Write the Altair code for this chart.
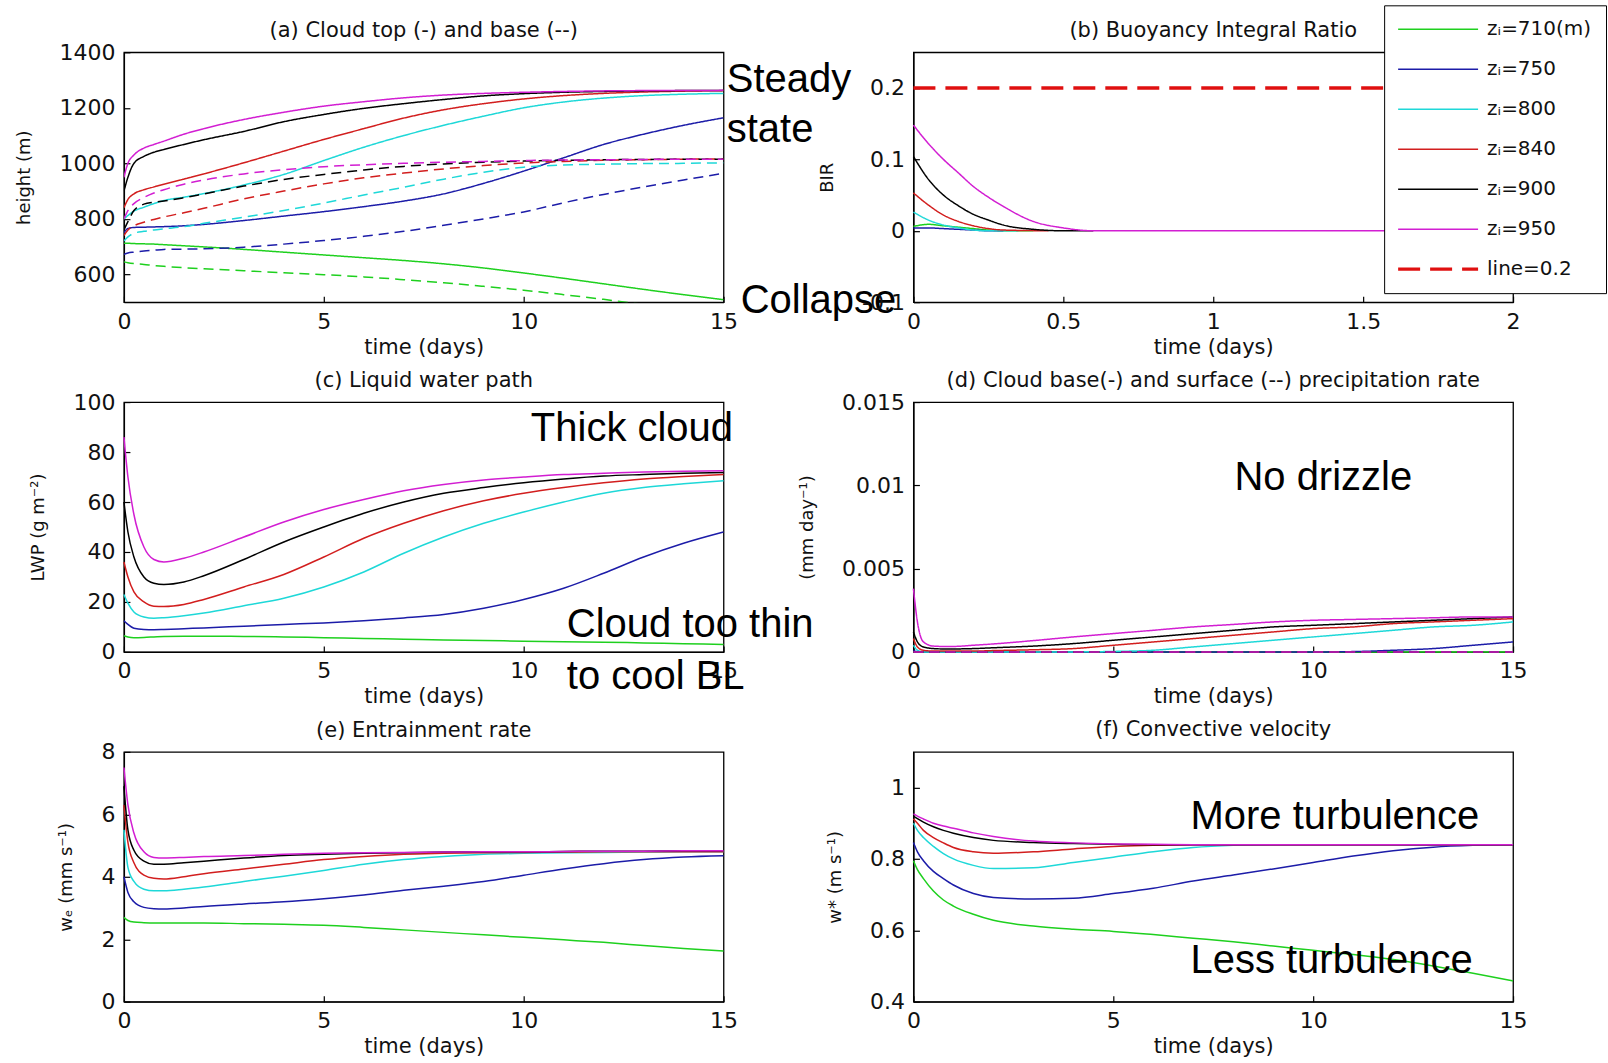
import altair as alt
import pandas as pd

# ---------------- data ----------------
SERIES_KEYS = ["710", "750", "800", "840", "900", "950"]
LABELS = ["z\u1d62=710(m)", "z\u1d62=750", "z\u1d62=800", "z\u1d62=840", "z\u1d62=900", "z\u1d62=950"]
LINE02_LABEL = "line=0.2"
COLORS = ["#1ed01e", "#1c1ca8", "#1ed8d8", "#d21e1e", "#000000", "#d21ed2"]
RED_DASH = "#e01010"

T = [0, 0.1, 0.25, 0.5, 0.75, 1, 1.5, 2, 3, 4, 5, 6, 7, 8, 9, 10, 11, 12, 13, 14, 15]

CLOUD_TOP = {
    "710": [712, 712, 711, 710, 709, 707, 703, 699, 690, 680, 670, 660, 650, 638, 623, 605, 586, 566, 546, 527, 509],
    "750": [750, 765, 769, 770, 771, 772, 775, 780, 794, 810, 826, 844, 864, 890, 928, 972, 1020, 1068, 1105, 1137, 1164],
    "800": [800, 812, 828, 842, 855, 866, 878, 891, 922, 960, 1010, 1058, 1100, 1137, 1170, 1200, 1221, 1235, 1244, 1249, 1252],
    "840": [840, 870, 890, 905, 915, 925, 943, 962, 1002, 1044, 1086, 1125, 1163, 1193, 1215, 1232, 1244, 1252, 1257, 1260, 1262],
    "900": [900, 950, 1000, 1025, 1040, 1050, 1068, 1085, 1115, 1150, 1176, 1198, 1215, 1230, 1243, 1251, 1256, 1259, 1261, 1262, 1262],
    "950": [950, 1000, 1030, 1055, 1068, 1080, 1105, 1125, 1158, 1184, 1206, 1222, 1236, 1246, 1252, 1256, 1259, 1261, 1262, 1262, 1263],
}
CLOUD_BASE = {
    "710": [645, 642, 639, 636, 632, 629, 624, 620, 613, 606, 599, 591, 581, 570, 557, 543, 527, 510, 492, 474, 455],
    "750": [672, 677, 680, 684, 687, 690, 691, 692, 698, 709, 722, 737, 755, 777, 800, 825, 858, 888, 915, 940, 964],
    "800": [720, 735, 748, 755, 760, 764, 772, 784, 806, 830, 857, 886, 914, 943, 968, 986, 994, 997, 999, 1000, 1002],
    "840": [740, 760, 775, 788, 798, 807, 822, 838, 872, 900, 926, 948, 965, 980, 992, 1001, 1007, 1011, 1013, 1015, 1016],
    "900": [760, 790, 830, 853, 860, 864, 876, 890, 918, 942, 960, 976, 989, 998, 1004, 1008, 1011, 1013, 1014, 1015, 1015],
    "950": [800, 830, 855, 877, 893, 905, 925, 940, 962, 977, 988, 995, 1000, 1004, 1007, 1010, 1012, 1013, 1014, 1015, 1015],
}

BIR_T = {
    "710": [0, 0.05, 0.1, 0.15, 0.2, 0.25, 0.3, 0.4],
    "750": [0, 0.05, 0.1, 0.15, 0.2, 0.25, 0.3],
    "800": [0, 0.05, 0.1, 0.15, 0.2, 0.25, 0.35],
    "840": [0, 0.05, 0.1, 0.15, 0.2, 0.25, 0.3, 0.45],
    "900": [0, 0.05, 0.1, 0.15, 0.2, 0.25, 0.3, 0.4, 0.5, 0.6],
    "950": [0, 0.05, 0.1, 0.15, 0.2, 0.25, 0.3, 0.4, 0.5, 0.6, 2.0],
}
BIR = {
    "710": [0.006, 0.009, 0.007, 0.005, 0.003, 0.001, 0.0, 0.0],
    "750": [0.004, 0.004, 0.003, 0.002, 0.001, 0.0, 0.0],
    "800": [0.026, 0.015, 0.008, 0.004, 0.001, 0.0, 0.0],
    "840": [0.053, 0.036, 0.022, 0.013, 0.007, 0.003, 0.001, 0.0],
    "900": [0.104, 0.072, 0.05, 0.035, 0.023, 0.015, 0.008, 0.002, 0.0, 0.0],
    "950": [0.148, 0.122, 0.1, 0.081, 0.062, 0.047, 0.034, 0.013, 0.004, 0.0, 0.0],
}
LINE02_T = [0, 2]
LINE02_V = [0.2, 0.2]

LWP = {
    "710": [6.5, 6.0, 5.7, 5.8, 6.0, 6.2, 6.3, 6.3, 6.2, 6.0, 5.7, 5.4, 5.1, 4.8, 4.6, 4.3, 4.1, 3.9, 3.6, 3.3, 3.0],
    "750": [12.5, 11.0, 9.5, 9.0, 8.9, 9.0, 9.3, 9.6, 10.3, 11.0, 11.6, 12.5, 13.6, 15.0, 17.5, 21.0, 25.5, 31.5, 38.0, 43.5, 48.0],
    "800": [23, 19.5, 16, 14, 13.5, 13.7, 14.5, 15.6, 18.5, 21.5, 26, 32, 39.5, 46, 51.5, 56, 60, 63.5, 65.8, 67.3, 68.5],
    "840": [36, 30, 24, 20, 18.3, 18.2, 19, 21, 26, 31, 38, 45.5, 51.5, 56.5, 60.5, 63.5, 65.8, 67.7, 69.2, 70.2, 71],
    "900": [60, 48, 38, 30, 27.5, 27, 28, 30.5, 37, 44, 50, 55.5, 60, 63.5, 65.8, 67.7, 69.2, 70.4, 71, 71.5, 71.8],
    "950": [86, 70, 55, 42, 37, 36, 37.5, 40, 46, 52, 57, 61, 64.5, 67, 68.8, 70, 71, 71.5, 72, 72.3, 72.5],
}

PRECIP_BASE = {
    "710": [0, 0, 0, 0, 0, 0, 0, 0, 0, 0, 0, 0, 0, 0, 0, 0, 0, 0, 0, 0, 0],
    "750": [0.0001, 0, 0, 0, 0, 0, 0, 0, 0, 0, 0, 0, 0, 0, 0, 0, 0.00002, 0.0001, 0.0002, 0.0004, 0.0006],
    "800": [0.0004, 0.0001, 0, 0, 0, 0, 0, 0, 0, 0, 0.00003, 0.0001, 0.0003, 0.0005, 0.0007, 0.0009, 0.0011, 0.0013, 0.0015, 0.0016, 0.0018],
    "840": [0.0008, 0.0003, 0.0001, 0.00005, 0.00005, 0.00005, 0.00005, 0.00008, 0.00013, 0.0002, 0.0004, 0.0006, 0.0008, 0.001, 0.0012, 0.0014, 0.0015, 0.0017, 0.0018, 0.0019, 0.002],
    "900": [0.0012, 0.0006, 0.0003, 0.0002, 0.00018, 0.00018, 0.0002, 0.00025, 0.00035, 0.0005, 0.0007, 0.0009, 0.0011, 0.0013, 0.0015, 0.0016, 0.0017, 0.0018, 0.0019, 0.002, 0.0021],
    "950": [0.0038, 0.0018, 0.0006, 0.00035, 0.00033, 0.00033, 0.0004, 0.00048, 0.00068, 0.0009, 0.0011, 0.0013, 0.0015, 0.00165, 0.0018, 0.0019, 0.00195, 0.002, 0.00205, 0.0021, 0.0021],
}
SURF_T = [0, 15]
PRECIP_SURF = {k: [0, 0] for k in SERIES_KEYS}

WE = {
    "710": [2.7, 2.6, 2.55, 2.53, 2.52, 2.52, 2.52, 2.52, 2.5, 2.48, 2.45, 2.38, 2.3, 2.22, 2.14, 2.06, 1.98, 1.9, 1.8, 1.7, 1.62],
    "750": [4.0, 3.5, 3.2, 3.02, 2.98, 2.97, 3.0, 3.05, 3.13, 3.2, 3.3, 3.42, 3.57, 3.7, 3.85, 4.05, 4.25, 4.42, 4.55, 4.63, 4.67],
    "800": [5.5, 4.3, 3.85, 3.6, 3.55, 3.55, 3.6, 3.67, 3.85, 4.02, 4.2, 4.4, 4.55, 4.65, 4.72, 4.75, 4.77, 4.78, 4.79, 4.8, 4.8],
    "840": [6.3, 5.1, 4.45, 4.05, 3.95, 3.93, 4.0, 4.1, 4.25, 4.4, 4.55, 4.65, 4.72, 4.75, 4.77, 4.78, 4.79, 4.8, 4.8, 4.8, 4.8],
    "900": [6.9, 5.5, 4.85, 4.5, 4.4, 4.4, 4.45, 4.5, 4.6, 4.68, 4.72, 4.75, 4.77, 4.79, 4.8, 4.8, 4.81, 4.82, 4.82, 4.83, 4.83],
    "950": [7.5, 6.3, 5.4, 4.8, 4.62, 4.6, 4.62, 4.65, 4.68, 4.72, 4.75, 4.77, 4.78, 4.79, 4.8, 4.8, 4.81, 4.82, 4.82, 4.83, 4.83],
}

WSTAR = {
    "710": [0.795, 0.77, 0.745, 0.71, 0.685, 0.668, 0.645, 0.628, 0.612, 0.603, 0.597, 0.588, 0.578, 0.568, 0.556, 0.544, 0.532, 0.518, 0.5, 0.48, 0.458],
    "750": [0.846, 0.82, 0.795, 0.765, 0.745, 0.727, 0.703, 0.692, 0.688, 0.69, 0.703, 0.718, 0.738, 0.755, 0.772, 0.79, 0.808, 0.823, 0.833, 0.838, 0.84],
    "800": [0.9, 0.88, 0.86, 0.835, 0.815, 0.8, 0.782, 0.773, 0.775, 0.79, 0.805, 0.82, 0.832, 0.838, 0.84, 0.84, 0.84, 0.84, 0.84, 0.84, 0.84],
    "840": [0.912, 0.9, 0.88, 0.86, 0.845, 0.832, 0.82, 0.816, 0.82, 0.828, 0.835, 0.838, 0.84, 0.84, 0.84, 0.84, 0.84, 0.84, 0.84, 0.84, 0.84],
    "900": [0.92, 0.913, 0.903, 0.89, 0.88, 0.872, 0.86, 0.852, 0.846, 0.843, 0.841, 0.84, 0.84, 0.84, 0.84, 0.84, 0.84, 0.84, 0.84, 0.84, 0.84],
    "950": [0.926, 0.92, 0.912, 0.9, 0.892, 0.886, 0.873, 0.863, 0.85, 0.845, 0.842, 0.841, 0.84, 0.84, 0.84, 0.84, 0.84, 0.84, 0.84, 0.84, 0.84],
}

ANNOT_A = {"x": [15.08, 15.08, 15.43], "y": [1299, 1119, 504], "text": ["Steady", "state", "Collapse"]}
ANNOT_C = {"x": [10.18, 11.08, 11.08], "y": [89.2, 10.8, -10.0], "text": ["Thick cloud", "Cloud too thin", "to cool BL"]}
ANNOT_D = {"x": [8.03], "y": [0.01044], "text": ["No drizzle"]}
ANNOT_F = {"x": [6.93, 6.93], "y": [0.918, 0.515], "text": ["More turbulence", "Less turbulence"]}

# ---------------- helpers ----------------
FMT = "datum.value < 0 ? '-' + format(-datum.value, '~g') : format(datum.value, '~g')"
W, H = 600, 250
TITLE_FONT = "DejaVu Sans"
ANNOT_FONT = "Liberation Sans"


def long_frame(times, table, kind=""):
    rows = []
    for key, label in zip(SERIES_KEYS, LABELS):
        ts = times[key] if isinstance(times, dict) else times
        for t, v in zip(ts, table[key]):
            rows.append({"t": t, "v": v, "series": label, "kind": kind})
    return pd.DataFrame(rows)


def x_enc(dom, vals):
    return alt.X("t:Q", scale=alt.Scale(domain=dom, nice=False, zero=False),
                 axis=alt.Axis(values=vals, title="time (days)", labelExpr=FMT))


def y_enc(dom, vals, title):
    return alt.Y("v:Q", scale=alt.Scale(domain=dom, nice=False, zero=False),
                 axis=alt.Axis(values=vals, title=title, labelExpr=FMT))


color_scale = alt.Scale(domain=LABELS, range=COLORS)
dash_scale = alt.Scale(domain=["top", "base"], range=[[1, 0], [10, 6]])


def line_layer(df, xd, xv, yd, yv, ytitle, dashed=False, clip=False):
    enc = dict(x=x_enc(xd, xv), y=y_enc(yd, yv, ytitle),
               color=alt.Color("series:N", scale=color_scale, legend=None))
    if dashed:
        enc["strokeDash"] = alt.StrokeDash("kind:N", scale=dash_scale, legend=None)
    return alt.Chart(df).mark_line(strokeWidth=1.5, clip=clip, interpolate="monotone").encode(**enc)


def annot_layer(d):
    return alt.Chart(pd.DataFrame(d)).mark_text(
        align="left", baseline="middle", font=ANNOT_FONT, fontSize=40, color="black"
    ).encode(x="x:Q", y="y:Q", text="text:N")


def title(text, offset=0, dy=0):
    return alt.TitleParams(text=text, font=TITLE_FONT, fontSize=21, fontWeight="normal",
                           color="#111111", offset=offset, dy=dy, anchor="middle")


# ---------------- panels ----------------
X15 = [0, 15]
XT15 = [0, 5, 10, 15]

df_a = pd.concat([long_frame(T, CLOUD_TOP, "top"), long_frame(T, CLOUD_BASE, "base")])
pa = alt.layer(
    line_layer(df_a, X15, XT15, [500, 1400], [600, 800, 1000, 1200, 1400], "height (m)", dashed=True, clip=True),
    annot_layer(ANNOT_A),
).properties(width=W, height=H, title=title("(a) Cloud top (-) and base (--)"))

# panel b with legend
b_domain = LABELS + [LINE02_LABEL]
b_color = alt.Scale(domain=b_domain, range=COLORS + [RED_DASH])
b_dash = alt.Scale(domain=b_domain, range=[[1, 0]] * 6 + [[22, 10]])
leg = alt.Legend(title=None, orient="none", legendX=471, legendY=-47,
                 symbolType="M-4,0H4", symbolSize=400, symbolOffset=30,
                 symbolStrokeWidth={"expr": "datum.value === 'line=0.2' ? 3.2 : 1.6"},
                 labelOffset=39, labelFont=TITLE_FONT, labelFontSize=20, labelColor="#111111",
                 rowPadding=20, padding=14, strokeColor="black", fillColor="white")
df_b = long_frame(BIR_T, BIR)
df_b02 = pd.DataFrame({"t": LINE02_T, "v": LINE02_V, "series": LINE02_LABEL})
b_lines = alt.Chart(df_b).mark_line(strokeWidth=1.5, interpolate="monotone").encode(
    x=alt.X("t:Q", scale=alt.Scale(domain=[0, 2], nice=False, zero=False),
            axis=alt.Axis(values=[0, 0.5, 1, 1.5, 2], title="time (days)", labelExpr=FMT)),
    y=y_enc([-0.1, 0.25], [-0.1, 0, 0.1, 0.2], "BIR"),
    color=alt.Color("series:N", scale=b_color, legend=leg),
    strokeDash=alt.StrokeDash("series:N", scale=b_dash, legend=leg),
)
b_ref = alt.Chart(df_b02).mark_line(strokeWidth=3.5).encode(
    x="t:Q", y="v:Q",
    color=alt.Color("series:N", scale=b_color, legend=leg),
    strokeDash=alt.StrokeDash("series:N", scale=b_dash, legend=leg),
)
pb = alt.layer(b_lines, b_ref).properties(
    width=W, height=H, title=title("(b) Buoyancy Integral Ratio", offset=0, dy=36))

df_c = long_frame(T, LWP)
pc = alt.layer(
    line_layer(df_c, X15, XT15, [0, 100], [0, 20, 40, 60, 80, 100], "LWP (g m\u207b\u00b2)"),
    annot_layer(ANNOT_C),
).properties(width=W, height=H, title=title("(c) Liquid water path"))

df_d = pd.concat([long_frame(T, PRECIP_BASE, "top"), long_frame(SURF_T, PRECIP_SURF, "base")])
pdd = alt.layer(
    line_layer(df_d, X15, XT15, [0, 0.015], [0, 0.005, 0.01, 0.015], "(mm day\u207b\u00b9)", dashed=True),
    annot_layer(ANNOT_D),
).properties(width=W, height=H, title=title("(d) Cloud base(-) and surface (--) precipitation rate"))

df_e = long_frame(T, WE)
pe = alt.layer(
    line_layer(df_e, X15, XT15, [0, 8], [0, 2, 4, 6, 8], "w\u2091 (mm s\u207b\u00b9)"),
).properties(width=W, height=H, title=title("(e) Entrainment rate"))

df_f = long_frame(T, WSTAR)
pf = alt.layer(
    line_layer(df_f, X15, XT15, [0.4, 1.1], [0.4, 0.6, 0.8, 1.0], "w* (m s\u207b\u00b9)"),
    annot_layer(ANNOT_F),
).properties(width=W, height=H, title=title("(f) Convective velocity", offset=12))

chart = alt.concat(
    pa, pb, pc, pdd, pe, pf,
    columns=2, spacing={"row": 100, "column": 190}, bounds="flush",
).resolve_scale(
    color="independent", strokeDash="independent"
).resolve_legend(
    color="independent", strokeDash="independent"
).properties(
    padding={"left": 15, "top": 3, "right": 0, "bottom": 0},
    background="white",
).configure_view(
    stroke="black", strokeWidth=1.3
).configure_axis(
    labelFont=TITLE_FONT, labelFontSize=22, labelColor="#111111", labelFlush=False,
    titleFont=TITLE_FONT, titleFontWeight="normal", titleColor="#111111",
    grid=False, domainColor="black", domainWidth=1.3,
    tickColor="black", tickWidth=1.2, tickSize={"expr": "-6"}, labelPadding=15,
).configure_axisX(
    titleFontSize=21, titlePadding=4
).configure_axisY(
    titleFontSize=18, titlePadding=25
)

chart.save("out.html", embed_options={"renderer": "svg", "actions": False})
